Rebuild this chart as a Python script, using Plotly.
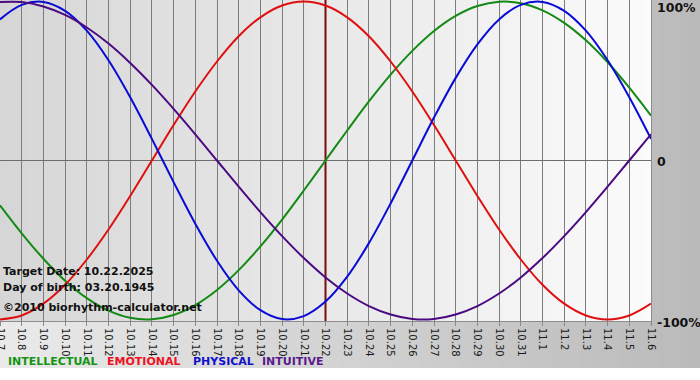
import plotly.graph_objects as go

# ---------------- data ----------------
dates = ["10.7", "10.8", "10.9", "10.10", "10.11", "10.12", "10.13", "10.14", "10.15",
         "10.16", "10.17", "10.18", "10.19", "10.20", "10.21", "10.22", "10.23", "10.24",
         "10.25", "10.26", "10.27", "10.28", "10.29", "10.30", "10.31", "11.1", "11.2",
         "11.3", "11.4", "11.5", "11.6"]

intellectual = [-0.282, -0.458, -0.618, -0.756, -0.866, -0.945, -0.990, -0.999, -0.972, -0.910,
                -0.815, -0.690, -0.541, -0.372, -0.189, 0.000, 0.189, 0.372, 0.541, 0.690,
                0.815, 0.910, 0.972, 0.999, 0.990, 0.945, 0.866, 0.756, 0.618, 0.458, 0.282]
emotional = [-1.000, -0.975, -0.901, -0.782, -0.623, -0.434, -0.223, 0.000, 0.223, 0.434,
             0.623, 0.782, 0.901, 0.975, 1.000, 0.975, 0.901, 0.782, 0.623, 0.434,
             0.223, 0.000, -0.223, -0.434, -0.623, -0.782, -0.901, -0.975, -1.000, -0.975, -0.901]
physical = [0.888, 0.979, 0.998, 0.942, 0.817, 0.631, 0.398, 0.136, -0.136, -0.398,
            -0.631, -0.817, -0.942, -0.998, -0.979, -0.888, -0.731, -0.520, -0.270, 0.000,
            0.270, 0.520, 0.731, 0.888, 0.979, 0.998, 0.942, 0.817, 0.631, 0.398, 0.136]
intuitive = [0.997, 0.997, 0.969, 0.916, 0.837, 0.736, 0.614, 0.476, 0.325, 0.165,
             0.000, -0.165, -0.325, -0.476, -0.614, -0.736, -0.837, -0.916, -0.969, -0.997,
             -0.997, -0.969, -0.916, -0.837, -0.736, -0.614, -0.476, -0.325, -0.165, 0.000, 0.165]

series_names = ["INTELLECTUAL", "EMOTIONAL", "PHYSICAL", "INTUITIVE"]
y_tick_vals = [1, 0, -1]
y_tick_text = ["100%", "0", "-100%"]
target_date = "10.22"
target_label = "Target Date: 10.22.2025"
birth_label = "Day of birth: 03.20.1945"
credit_label = "©2010 biorhythm-calculator.net"

# ---------------- styling ----------------
line_colors = ["#138a13", "#e00f0f", "#0a0ad6", "#4b0a82"]
text_colors = ["#129412", "#ee1122", "#1111cc", "#5a1a8e"]
FONT = "DejaVu Sans"

W, H = 700, 380
ML, MR, MT, MB = 0, 49, 0, 59
PW = W - ML - MR   # 651
PH = H - MT - MB   # 321

def px(xp):
    return (xp - ML) / PW

def py(yp):
    return 1 - (yp - MT) / PH

def gray(v):
    v = int(round(v))
    return "rgb(%d,%d,%d)" % (v, v, v)

shapes = []
# outer background gradient (image is 368 px tall)
n_out = 70
for i in range(n_out):
    x0 = i * W / n_out
    x1 = (i + 1) * W / n_out + 0.6
    g = 234 - (234 - 186) * (i + 0.5) / n_out
    shapes.append(dict(type="rect", xref="paper", yref="paper", layer="below",
                       x0=px(x0), x1=px(x1), y0=py(0), y1=py(368),
                       fillcolor=gray(g), line=dict(width=0)))
# plot-area gradient
n_in = 93
for i in range(n_in):
    x0 = i * PW / n_in
    x1 = min(PW, (i + 1) * PW / n_in + 0.6)
    g = 214 + (251 - 214) * (i + 0.5) / n_in
    shapes.append(dict(type="rect", xref="paper", yref="paper", layer="below",
                       x0=px(x0), x1=px(x1), y0=0, y1=1,
                       fillcolor=gray(g), line=dict(width=0)))

xs = list(range(len(dates)))
ti = dates.index(target_date)

fig = go.Figure()
fig.add_trace(go.Scatter(x=[ti, ti], y=[-1.01, 1.01], mode="lines",
                         line=dict(color="#7a0c0c", width=2), hoverinfo="skip"))
for name, vals, col in zip(series_names, [intellectual, emotional, physical, intuitive], line_colors):
    fig.add_trace(go.Scatter(x=xs, y=vals, mode="lines", name=name,
                             line=dict(color=col, width=2, shape="spline", smoothing=1.0)))

annotations = []
# info texts
for txt, yy in [(target_label, 271.5), (birth_label, 287.5), (credit_label, 307)]:
    annotations.append(dict(text=txt, xref="paper", yref="paper", x=px(1), y=py(yy),
                            xanchor="left", yanchor="middle", showarrow=False,
                            font=dict(family=FONT, size=11, color="#111111", weight="bold")))
# right-side percentage labels
for v, t, yy in zip(y_tick_vals, y_tick_text, [7, 162, 322.5]):
    annotations.append(dict(text=t, xref="paper", yref="paper", x=px(655), y=py(yy),
                            xanchor="left", yanchor="middle", showarrow=False,
                            font=dict(family=FONT, size=12.5, color="#111111", weight="bold")))
# legend words
for name, col, xx in zip(series_names, text_colors, [5.5, 105, 190.5, 259.5]):
    annotations.append(dict(text=name, xref="paper", yref="paper", x=px(xx), y=py(361.5),
                            xanchor="left", yanchor="middle", showarrow=False,
                            font=dict(family=FONT, size=11, color=col, weight="bold")))

fig.update_layout(
    template="none",
    width=W, height=H,
    margin=dict(l=ML, r=MR, t=MT, b=MB, pad=0, autoexpand=False),
    paper_bgcolor="white",
    plot_bgcolor="rgba(0,0,0,0)",
    showlegend=False,
    hovermode=False,
    shapes=shapes,
    annotations=annotations,
    xaxis=dict(range=[0, len(dates) - 1], tickmode="array", tickvals=xs, ticktext=dates,
               automargin=False,
               tickangle=90, ticks="outside", ticklen=4, tickcolor="#8a8a8a",
               ticklabeloverflow="allow",
               showgrid=True, gridcolor="#7c7c7c", gridwidth=1,
               showline=True, mirror=True, linecolor="#8c8c8c", linewidth=1,
               zeroline=False, tickfont=dict(family=FONT, size=10, color="#1a1a1a")),
    yaxis=dict(range=[-1.01, 1.01], tickmode="array", tickvals=[0], showticklabels=False,
               automargin=False,
               showgrid=True, gridcolor="#6e6e6e", gridwidth=1,
               showline=True, mirror=True, linecolor="#8c8c8c", linewidth=1,
               zeroline=False),
)

fig.write_html("out.html",
               config={"displayModeBar": False, "staticPlot": True},
               post_script="document.body.style.margin='0';document.body.style.overflow='hidden';")
